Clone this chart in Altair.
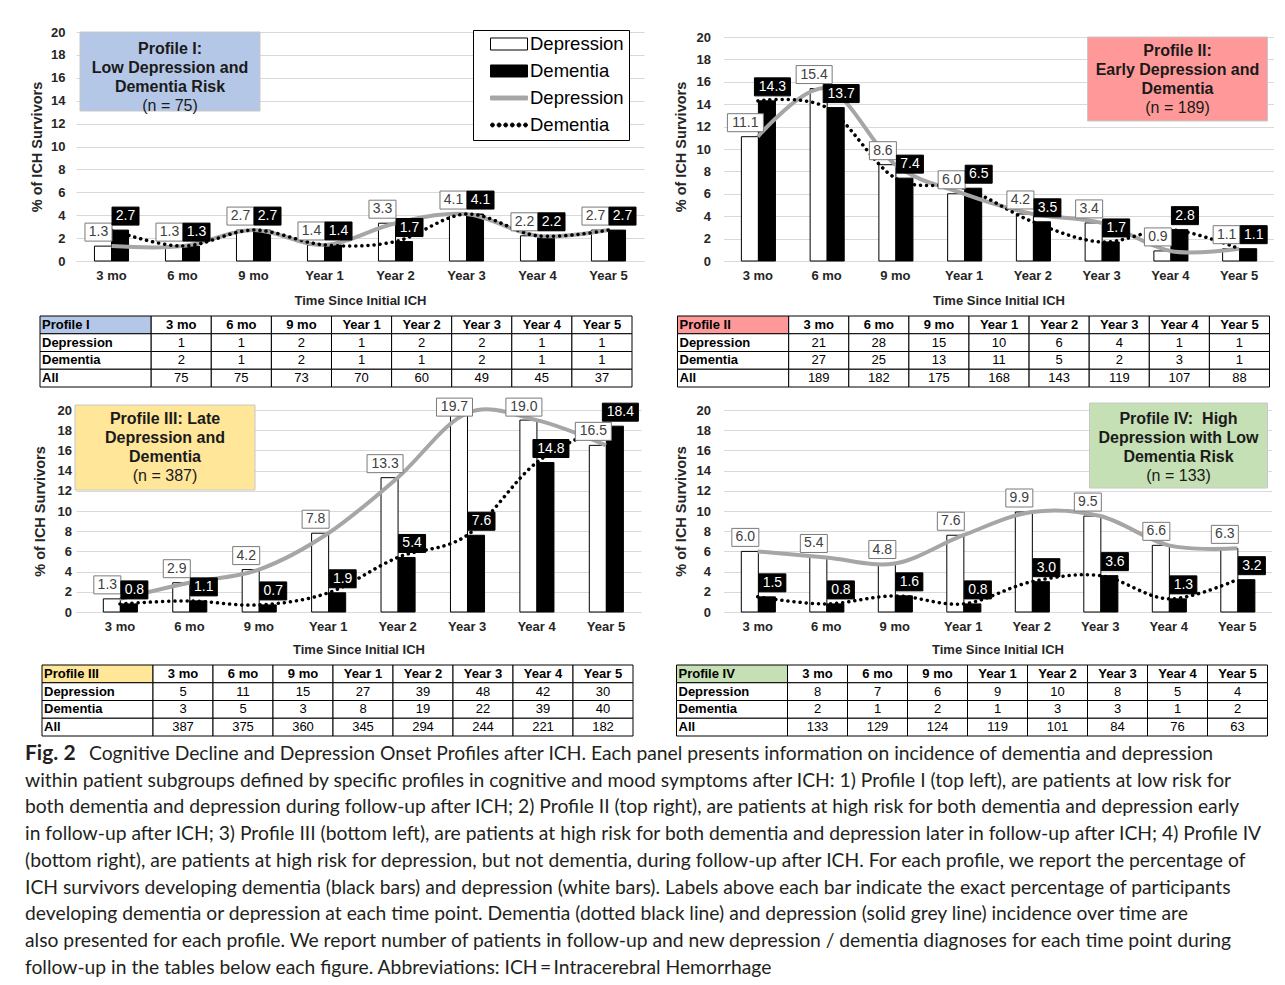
import altair as alt
import pandas as pd

# ---------------- data ----------------
times = ["3 mo", "6 mo", "9 mo", "Year 1", "Year 2", "Year 3", "Year 4", "Year 5"]

p1_depression = [1.3, 1.3, 2.7, 1.4, 3.3, 4.1, 2.2, 2.7]
p1_dementia = [2.7, 1.3, 2.7, 1.4, 1.7, 4.1, 2.2, 2.7]
p2_depression = [11.1, 15.4, 8.6, 6.0, 4.2, 3.4, 0.9, 1.1]
p2_dementia = [14.3, 13.7, 7.4, 6.5, 3.5, 1.7, 2.8, 1.1]
p3_depression = [1.3, 2.9, 4.2, 7.8, 13.3, 19.7, 19.0, 16.5]
p3_dementia = [0.8, 1.1, 0.7, 1.9, 5.4, 7.6, 14.8, 18.4]
p4_depression = [6.0, 5.4, 4.8, 7.6, 9.9, 9.5, 6.6, 6.3]
p4_dementia = [1.5, 0.8, 1.6, 0.8, 3.0, 3.6, 1.3, 3.2]

t1_depression = [1, 1, 2, 1, 2, 2, 1, 1]
t1_dementia = [2, 1, 2, 1, 1, 2, 1, 1]
t1_all = [75, 75, 73, 70, 60, 49, 45, 37]
t2_depression = [21, 28, 15, 10, 6, 4, 1, 1]
t2_dementia = [27, 25, 13, 11, 5, 2, 3, 1]
t2_all = [189, 182, 175, 168, 143, 119, 107, 88]
t3_depression = [5, 11, 15, 27, 39, 48, 42, 30]
t3_dementia = [3, 5, 3, 8, 19, 22, 39, 40]
t3_all = [387, 375, 360, 345, 294, 244, 221, 182]
t4_depression = [8, 7, 6, 9, 10, 8, 5, 4]
t4_dementia = [2, 1, 2, 1, 3, 3, 1, 2]
t4_all = [133, 129, 124, 119, 101, 84, 76, 63]

table_rows = ["Depression", "Dementia", "All"]
profile_names = ["Profile I", "Profile II", "Profile III", "Profile IV"]
profile_titles = [
    ["Profile I:", "Low Depression and", "Dementia Risk"],
    ["Profile II:", "Early Depression and", "Dementia"],
    ["Profile III: Late", "Depression and", "Dementia"],
    ["Profile IV:\u00a0 High", "Depression with Low", "Dementia Risk"],
]
profile_n = ["(n = 75)", "(n = 189)", "(n = 387)", "(n = 133)"]
profile_colors = ["#b4c7e7", "#ff9999", "#ffe699", "#c5e0b4"]

legend_keys = ["Depression", "Dementia", "Depression ", "Dementia "]

caption_fig = "Fig. 2"
caption_lines = [
    "Cognitive Decline and Depression Onset Profiles after ICH. Each panel presents information on incidence of dementia and depression",
    "within patient subgroups defined by specific profiles in cognitive and mood symptoms after ICH: 1) Profile I (top left), are patients at low risk for",
    "both dementia and depression during follow-up after ICH; 2) Profile II (top right), are patients at high risk for both dementia and depression early",
    "in follow-up after ICH; 3) Profile III (bottom left), are patients at high risk for both dementia and depression later in follow-up after ICH; 4) Profile IV",
    "(bottom right), are patients at high risk for depression, but not dementia, during follow-up after ICH. For each profile, we report the percentage of",
    "ICH survivors developing dementia (black bars) and depression (white bars). Labels above each bar indicate the exact percentage of participants",
    "developing dementia or depression at each time point. Dementia (dotted black line) and depression (solid grey line) incidence over time are",
    "also presented for each profile. We report number of patients in follow-up and new depression / dementia diagnoses for each time point during",
    "follow-up in the tables below each figure. Abbreviations: ICH\u2009=\u2009Intracerebral Hemorrhage",
]

# ---------------- styling ----------------
FONT = "Liberation Sans"
CAP_FONT = "Lato"
GREY = "#a6a6a6"
TXT = "#262626"


def box_path(cx, half):
    # custom symbol, 10 px per unit at size 400; box sits above the anchor point
    return f"M{cx - half:.2f},-2.3H{cx + half:.2f}V-0.5H{cx - half:.2f}Z"


DEP_DX, DEM_DX = -4.5, 5.5
DEP_NARROW, DEP_WIDE = box_path(DEP_DX / 10, 1.35), box_path(DEP_DX / 10, 1.8)
DEM_NARROW, DEM_WIDE = box_path(DEM_DX / 10, 1.35), box_path(DEM_DX / 10, 1.8)

LEG_RECT = "M-0.51,-0.245H1V0.245H-0.51Z"
LEG_LINE = "M-0.51,-0.08H1V0.08H-0.51Z"
_r = 0.08
LEG_DOTS = "".join(
    f"M{cx - _r:.3f},0A{_r},{_r} 0 1,0 {cx + _r:.3f},0A{_r},{_r} 0 1,0 {cx - _r:.3f},0Z"
    for cx in [-0.43, -0.16, 0.11, 0.38, 0.65, 0.92]
)

one = pd.DataFrame({"a": [0]})


def panel(dep, dem, w, h, idx, box, cx, ys, label_pad, title_pad, ymax=20,
          band_po=0.26, band_align=0.5, xtitle_pad=9, legend=False):
    df = pd.DataFrame({
        "time": times + times,
        "series": ["Depression"] * 8 + ["Dementia"] * 8,
        "value": dep + dem,
    })
    df["label"] = [f"{v:.1f}" for v in df["value"]]
    is_dep = alt.datum.series == "Depression"
    is_dem = alt.datum.series == "Dementia"

    x = alt.X(
        "time:N", sort=times,
        scale=alt.Scale(paddingInner=0.52, paddingOuter=band_po, align=band_align),
        axis=alt.Axis(
            title="Time Since Initial ICH", labelAngle=0, labelFont=FONT, labelFontSize=13,
            labelFontWeight="bold", labelColor=TXT, labelPadding=8, ticks=False,
            domainColor="#d9d9d9", titleFont=FONT, titleFontSize=13, titleFontWeight="bold",
            titleColor=TXT, titlePadding=xtitle_pad,
        ),
    )
    yaxis = alt.Axis(
        values=list(range(0, 21, 2)), grid=True, gridColor="#d9d9d9", domain=False, ticks=False,
        labelFont=FONT, labelFontSize=13, labelFontWeight="bold", labelColor=TXT,
        labelPadding=label_pad, titleFont=FONT, titleFontSize=14.5, titleFontWeight="bold",
        titleColor=TXT, titlePadding=title_pad,
    )
    yscale = alt.Scale(domain=[0, ymax], nice=False)
    y = alt.Y("value:Q", scale=yscale, axis=yaxis, title="% of ICH Survivors")
    yl = alt.Y("ly:Q", scale=yscale, axis=yaxis, title="% of ICH Survivors")
    xo = alt.XOffset("series:N", scale=alt.Scale(domain=["Depression", "Dementia"], paddingInner=0, paddingOuter=0))

    base = alt.Chart(df)
    bars = base.mark_bar(stroke="black", strokeWidth=1).encode(
        x=x, y=y, xOffset=xo,
        fill=alt.when(is_dep).then(alt.value("white")).otherwise(alt.value("black")),
    )
    grey_line = base.transform_filter(is_dep).mark_line(
        color=GREY, strokeWidth=4, interpolate="cardinal"
    ).encode(x=x, y=y)
    dot_line = base.transform_filter(is_dem).mark_line(
        color="black", strokeWidth=3.5, strokeDash=[0.1, 6], strokeCap="round", interpolate="cardinal"
    ).encode(x=x, y=y)

    lab = base.transform_calculate(ly="min(datum.value, 18.9)", n="length(datum.label)")
    dep_boxes = lab.transform_filter(is_dep).mark_point(
        size=400, filled=True, strokeWidth=1, opacity=1, fill="white", stroke="#7a7a7a"
    ).encode(
        x=x, y=yl, xOffset=xo,
        shape=alt.when(alt.datum.n > 3).then(alt.value(DEP_WIDE)).otherwise(alt.value(DEP_NARROW)),
    )
    dem_boxes = lab.transform_filter(is_dem).mark_point(
        size=400, filled=True, strokeWidth=1, opacity=1, fill="black", stroke="black"
    ).encode(
        x=x, y=yl, xOffset=xo,
        shape=alt.when(alt.datum.n > 3).then(alt.value(DEM_WIDE)).otherwise(alt.value(DEM_NARROW)),
    )
    tstyle = dict(dy=-14, fontSize=14, font=FONT, baseline="middle", align="center")
    dep_text = lab.transform_filter(is_dep).mark_text(dx=DEP_DX, color="#404040", **tstyle).encode(
        x=x, y=yl, xOffset=xo, text="label:N"
    )
    dem_text = lab.transform_filter(is_dem).mark_text(dx=DEM_DX, color="white", **tstyle).encode(
        x=x, y=yl, xOffset=xo, text="label:N"
    )

    title_rect = alt.Chart(one).mark_rect(fill=profile_colors[idx], stroke="#c8c8c8", strokeWidth=1).encode(
        x=alt.value(box[0]), x2=alt.value(box[1]), y=alt.value(box[2]), y2=alt.value(box[3])
    )
    title_texts = []
    for k, line in enumerate(profile_titles[idx] + [profile_n[idx]]):
        title_texts.append(
            alt.Chart(one).mark_text(
                font=FONT, fontSize=16, fontWeight="bold" if k < 3 else "normal",
                color="#1a1a1a", baseline="middle", align="center",
            ).encode(x=alt.value(cx), y=alt.value(ys[k]), text=alt.value(line))
        )

    layers = [bars, grey_line, dot_line, dep_boxes, dem_boxes, dep_text, dem_text, title_rect] + title_texts

    if legend:
        lg = alt.Legend(
            title=None, orient="none", legendX=397, legendY=-2, labelFont=FONT, labelFontSize=18.5,
            labelColor="black", padding=5, strokeColor="black", fillColor="white", rowPadding=8,
            clipHeight=18, labelOffset=2, symbolSize=2401, symbolStrokeWidth=1,
            labelExpr="trim(datum.label) + '\u00a0\u00a0\u00a0\u00a0\u00a0'",
        )
        leg_df = pd.DataFrame({"key": legend_keys})
        leg_layer = alt.Chart(leg_df).transform_filter("false").mark_point(
            filled=True, strokeWidth=1, size=2401, opacity=1
        ).encode(
            shape=alt.Shape("key:N", scale=alt.Scale(domain=legend_keys, range=[LEG_RECT, LEG_RECT, LEG_LINE, LEG_DOTS]), legend=lg),
            fill=alt.Fill("key:N", scale=alt.Scale(domain=legend_keys, range=["white", "black", GREY, "black"]), legend=lg),
            stroke=alt.Stroke("key:N", scale=alt.Scale(domain=legend_keys, range=["black", "black", GREY, "black"]), legend=lg),
        )
        layers.append(leg_layer)

    return alt.layer(*layers).properties(width=w, height=h)


LABEL_COL = 1.85


def table(idx, dep, dem, alln, left_px, right_px):
    # table spans from left_px (negative: left of the panel origin) to right_px
    unit = (right_px - left_px) / (8 + LABEL_COL)
    d0 = -LABEL_COL - left_px / unit
    recs = [dict(row="hdr", x0=-LABEL_COL, x1=0.0, xm=-LABEL_COL / 2, t=profile_names[idx], fill=profile_colors[idx], kind="lab")]
    for i, tm in enumerate(times):
        recs.append(dict(row="hdr", x0=i, x1=i + 1, xm=i + 0.5, t=tm, fill="white", kind="hdr"))
    for rname, vals in zip(table_rows, [dep, dem, alln]):
        recs.append(dict(row=rname, x0=-LABEL_COL, x1=0.0, xm=-LABEL_COL / 2, t=rname, fill="white", kind="lab"))
        for i, v in enumerate(vals):
            recs.append(dict(row=rname, x0=i, x1=i + 1, xm=i + 0.5, t=str(v), fill="white", kind="val"))
    df = pd.DataFrame(recs)
    xs = alt.Scale(domain=[d0, 8], nice=False, zero=False)
    ys = alt.Y("row:N", sort=["hdr"] + table_rows, scale=alt.Scale(paddingInner=0, paddingOuter=0), axis=None)
    base = alt.Chart(df)
    cells = base.mark_rect(stroke="black", strokeWidth=1).encode(
        x=alt.X("x0:Q", scale=xs, axis=None), x2="x1:Q", y=ys, fill=alt.Fill("fill:N", scale=None)
    )
    lab = base.transform_filter(alt.datum.kind == "lab").mark_text(
        font=FONT, fontSize=13, fontWeight="bold", align="left", baseline="middle", dx=2, color="black"
    ).encode(x=alt.X("x0:Q", scale=xs, axis=None), y=ys, text="t:N")
    hdr = base.transform_filter(alt.datum.kind == "hdr").mark_text(
        font=FONT, fontSize=13, fontWeight="bold", align="center", baseline="middle", color="black"
    ).encode(x=alt.X("xm:Q", scale=xs, axis=None), y=ys, text="t:N")
    val = base.transform_filter(alt.datum.kind == "val").mark_text(
        font=FONT, fontSize=13, align="center", baseline="middle", color="black"
    ).encode(x=alt.X("xm:Q", scale=xs, axis=None), y=ys, text="t:N")
    return alt.layer(cells, lab, hdr, val).properties(width=right_px, height=71)


pI = panel(p1_depression, p1_dementia, 568, 229, 0, (4, 184, 0, 79), 94, [17, 36, 55, 74], 11, 6,
           xtitle_pad=12, legend=True)
pII = panel(p2_depression, p2_dementia, 550, 229, 1, (364, 544, 5, 89), 454, [19, 38, 57, 76], 13, 8,
            ymax=20.45, xtitle_pad=12)
pIII = panel(p3_depression, p3_dementia, 565, 202, 2, (-1, 179, -5, 80), 89, [9, 28, 47, 66], 4.5, 10,
             band_po=0.329, band_align=0.598, xtitle_pad=10)
pIV = panel(p4_depression, p4_dementia, 548, 202, 3, (366, 544, -7, 78), 455, [9, 28, 47, 66], 13, 8,
            xtitle_pad=10)

tI = table(0, t1_depression, t1_dementia, t1_all, -36, 556)
tII = table(1, t2_depression, t2_dementia, t2_all, -46, 546)
tIII = table(2, t3_depression, t3_dementia, t3_all, -34, 557)
tIV = table(3, t4_depression, t4_dementia, t4_all, -47, 544)

grid = alt.concat(
    pI, pII, tI, tII, pIII, pIV, tIII, tIV, columns=2, spacing={"row": 8, "column": 28.5}
).resolve_scale(shape="independent", fill="independent", stroke="independent")

cap_df = pd.DataFrame({"i": list(range(1, 9)), "t": caption_lines[1:]})
cap_y = alt.Y("i:Q", scale=alt.Scale(domain=[0, 8], nice=False, zero=False, reverse=True), axis=None)
cap_style = dict(align="left", baseline="middle", font=CAP_FONT, color="#231f20")
cap_body = alt.Chart(cap_df).mark_text(fontSize=19.3, **cap_style).encode(x=alt.value(-51), y=cap_y, text="t:N")
cap_first = alt.Chart(pd.DataFrame({"i": [0], "t": [caption_lines[0]]})).mark_text(
    dx=64, fontSize=19.3, **cap_style
).encode(x=alt.value(-51), y=cap_y, text="t:N")
cap_fig = alt.Chart(pd.DataFrame({"i": [0], "t": [caption_fig]})).mark_text(
    fontWeight="bold", fontSize=21, **cap_style
).encode(x=alt.value(-51), y=cap_y, text="t:N")
caption = alt.layer(cap_fig, cap_first, cap_body).properties(width=1120, height=213.6)

chart = alt.vconcat(grid, caption, spacing=6).resolve_scale(
    shape="independent", fill="independent", stroke="independent"
).properties(
    padding={"left": 17, "top": 18, "right": 0, "bottom": 0}
).configure_view(stroke=None)

chart.save("out.html", embed_options={"renderer": "svg", "actions": False})
